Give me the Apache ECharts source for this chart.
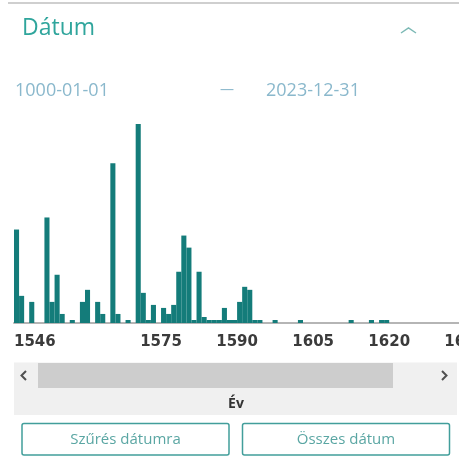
<!DOCTYPE html>
<html>
<head>
<meta charset="utf-8">
<title>Dátum</title>
<script src="https://cdn.jsdelivr.net/npm/echarts@6/dist/echarts.min.js"></script>
<style>
    html, body { margin: 0; padding: 0; background: #fff; }
    #main { width: 459px; height: 456px; }
</style>
</head>
<body>
<div id="main"></div>
<script>
    // évenkénti darabszám (csak a nem üres évek)
    var years  = [1546,1547,1549,1552,1553,1554,1555,1557,1559,1560,
                  1562,1563,1565,1566,1568,1570,1571,1572,1573,1575,
                  1576,1577,1578,1579,1580,1581,1582,1583,1584,1585,
                  1586,1587,1588,1589,1590,1591,1592,1593,1594,1597,
                  1602,1612,1616,1618,1619];
    var counts = [31,9,7,35,7,16,3,1,7,11,
                  7,3,53,3,1,66,10,1,6,5,
                  3,6,17,29,25,1,17,2,1,1,
                  1,5,1,1,7,12,11,1,1,1,
                  1,1,1,1,1];
    var tickYears = [1546, 1575, 1590, 1605, 1620, 1635];
    var dateFrom = '1000-01-01';
    var dateTo = '2023-12-31';

    var teal = '#147c7a';
    var myChart = echarts.init(document.getElementById('main'));

    var data = [];
    for (var i = 0; i < years.length; i++) {
        data.push([years[i], counts[i]]);
    }

    function label(x, y, text, font, fill, align) {
        return {
            type: 'text', x: x, y: y,
            style: {text: text, font: font, fill: fill, align: align || 'left', verticalAlign: 'middle'}
        };
    }

    var option = {
        animation: false,
        grid: {left: 14, top: 124, width: 476.6, height: 199, outerBoundsMode: 'none', containLabel: false},
        xAxis: {
            type: 'value',
            min: 1546,
            max: 1640,
            splitLine: {show: false},
            axisTick: {show: false},
            axisLine: {lineStyle: {color: '#b5b5b5', width: 2}},
            axisLabel: {
                customValues: tickYears,
                formatter: function (v) { return String(v); },
                alignMinLabel: 'left',
                margin: 12,
                color: '#3b3b3b',
                fontFamily: 'DejaVu Sans',
                fontWeight: 'bold',
                fontSize: 15
            }
        },
        yAxis: {type: 'value', min: 0, max: 66, show: false},
        series: [{
            type: 'custom',
            data: data,
            renderItem: function (params, api) {
                var p0 = api.coord([api.value(0), api.value(1)]);
                var p1 = api.coord([api.value(0) + 1, 0]);
                return {
                    type: 'rect',
                    shape: {x: p0[0], y: p0[1], width: p1[0] - p0[0], height: p1[1] - p0[1]},
                    style: {fill: teal}
                };
            }
        }],
        graphic: [
            {type: 'line', shape: {x1: 8, y1: 3, x2: 459, y2: 3}, style: {stroke: '#cfcfcf', lineWidth: 2}},
            label(22, 28, 'Dátum', '23px "Open Sans"', '#2fa59c'),
            {type: 'polyline', shape: {points: [[401, 33], [408.5, 28], [416, 33]]}, style: {stroke: '#7cb9b5', lineWidth: 1.5, fill: null}},
            label(15, 91, dateFrom, '18px "Open Sans"', '#8ab8cc'),
            label(220, 90, '—', '14px "Open Sans"', '#8ab8cc'),
            label(266, 91, dateTo, '18px "Open Sans"', '#8ab8cc'),
            // görgetősáv
            {type: 'rect', shape: {x: 14, y: 362.5, width: 443, height: 52.5}, style: {fill: '#f0f0f0'}},
            {type: 'rect', shape: {x: 38, y: 363, width: 355, height: 25}, style: {fill: '#cdcdcd'}},
            {type: 'polyline', shape: {points: [[26, 371], [21.5, 375.5], [26, 380]]}, style: {stroke: '#505050', lineWidth: 2, fill: null}},
            {type: 'polyline', shape: {points: [[442, 371], [446.5, 375.5], [442, 380]]}, style: {stroke: '#505050', lineWidth: 2, fill: null}},
            label(236, 404, 'Év', 'bold 14px "Open Sans"', '#333', 'center'),
            // gombok
            {type: 'rect', shape: {x: 22, y: 423.5, width: 207, height: 31.5, r: 2}, style: {fill: '#fff', stroke: '#429e9b', lineWidth: 1.5}},
            label(125.5, 440, 'Szűrés dátumra', '15px "Open Sans"', '#5aa6a3', 'center'),
            {type: 'rect', shape: {x: 242.5, y: 423.5, width: 207, height: 31.5, r: 2}, style: {fill: '#fff', stroke: '#429e9b', lineWidth: 1.5}},
            label(346, 440, 'Összes dátum', '15px "Open Sans"', '#5aa6a3', 'center')
        ]
    };
    myChart.setOption(option);
</script>
</body>
</html>
